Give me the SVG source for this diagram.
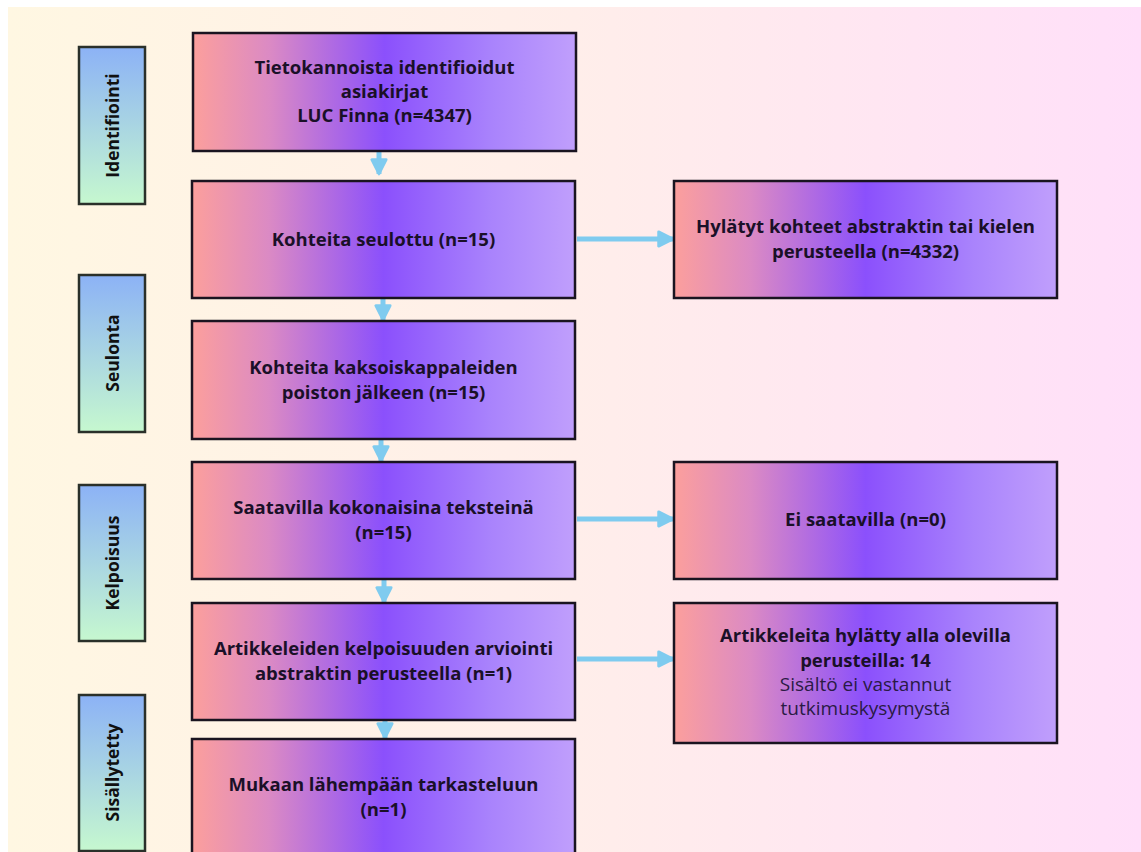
<svg xmlns="http://www.w3.org/2000/svg" width="1141" height="852" viewBox="0 0 1141 852">
  <defs>
    <linearGradient id="bg" x1="0" y1="0" x2="1" y2="0">
      <stop offset="0" stop-color="#fff7e2"/>
      <stop offset="0.5" stop-color="#ffeeea"/>
      <stop offset="1" stop-color="#ffdff9"/>
    </linearGradient>
    <linearGradient id="boxg" x1="0" y1="0" x2="1" y2="0">
      <stop offset="0" stop-color="#fc9f9c"/>
      <stop offset="0.2" stop-color="#db8ac4"/>
      <stop offset="0.5" stop-color="#8b50fc"/>
      <stop offset="0.78" stop-color="#a983fc"/>
      <stop offset="1" stop-color="#c09ffc"/>
    </linearGradient>
    <linearGradient id="labg" x1="0" y1="0" x2="0" y2="1">
      <stop offset="0" stop-color="#8cb2f6"/>
      <stop offset="1" stop-color="#c6f8cf"/>
    </linearGradient>
    <marker id="ah" viewBox="0 0 10 10" refX="9" refY="5" markerWidth="3.6" markerHeight="3.6" orient="auto" markerUnits="strokeWidth">
      <path d="M1,1 L9,5 L1,9 Z" fill="#7fcbef" stroke="#7fcbef" stroke-width="1.5" stroke-linejoin="round"/>
    </marker>
    <style>
      .box { fill: url(#boxg); stroke: #1a1420; stroke-width: 2.5; }
      .lab { fill: url(#labg); stroke: #2a302a; stroke-width: 2.5; }
      .t { font-family: "Open Sans", "Liberation Sans", sans-serif; font-weight: 700; font-size: 18.5px; fill: #1a1028; text-anchor: middle; }
      .r { font-family: "Open Sans", "Liberation Sans", sans-serif; font-weight: 400; font-size: 19px; fill: #2a1a45; text-anchor: middle; }
      .lt { font-family: "Open Sans", "Liberation Sans", sans-serif; font-weight: 700; font-size: 17.5px; fill: #111; text-anchor: middle; }
      .c { stroke: #7fcbef; stroke-width: 5; fill: none; marker-end: url(#ah); }
    </style>
  </defs>

  <rect x="0" y="0" width="1141" height="852" fill="#ffffff"/>
  <rect x="8" y="7" width="1133" height="845" fill="url(#bg)"/>

  <g id="label-identifiointi">
    <rect class="lab" x="79" y="47" width="66" height="157"/>
    <text class="lt" transform="translate(118.5,125.5) rotate(-90)">Identifiointi</text>
  </g>
  <g id="label-seulonta">
    <rect class="lab" x="79" y="275" width="66" height="157"/>
    <text class="lt" transform="translate(118.5,353) rotate(-90)">Seulonta</text>
  </g>
  <g id="label-kelpoisuus">
    <rect class="lab" x="79" y="485" width="66" height="156"/>
    <text class="lt" transform="translate(118.5,563) rotate(-90)">Kelpoisuus</text>
  </g>
  <g id="label-sisallytetty">
    <rect class="lab" x="79" y="695" width="66" height="156"/>
    <text class="lt" transform="translate(118.5,772.5) rotate(-90)">Sisällytetty</text>
  </g>

  <g id="connectors">
    <line class="c" x1="379" y1="152" x2="379" y2="174"/>
    <line class="c" x1="383" y1="299" x2="383" y2="320"/>
    <line class="c" x1="381" y1="440" x2="381" y2="461"/>
    <line class="c" x1="384" y1="580" x2="384" y2="602"/>
    <line class="c" x1="385" y1="721" x2="385" y2="738"/>
    <line class="c" x1="577" y1="239" x2="673" y2="239"/>
    <line class="c" x1="577" y1="519" x2="673" y2="519"/>
    <line class="c" x1="577" y1="659" x2="673" y2="659"/>
  </g>

  <g id="n1">
    <rect class="box" x="193" y="33" width="383" height="118"/>
    <text class="t" x="384.5" y="73.5">Tietokannoista identifioidut</text>
    <text class="t" x="384.5" y="97.5">asiakirjat</text>
    <text class="t" x="384.5" y="121.5">LUC Finna (n=4347)</text>
  </g>
  <g id="n2">
    <rect class="box" x="192" y="181" width="383" height="117"/>
    <text class="t" x="383.5" y="245.5">Kohteita seulottu (n=15)</text>
  </g>
  <g id="n3">
    <rect class="box" x="192" y="321" width="383" height="118"/>
    <text class="t" x="383.5" y="374">Kohteita kaksoiskappaleiden</text>
    <text class="t" x="383.5" y="398.5">poiston jälkeen (n=15)</text>
  </g>
  <g id="n4">
    <rect class="box" x="192" y="462" width="383" height="117"/>
    <text class="t" x="383.5" y="513.5">Saatavilla kokonaisina teksteinä</text>
    <text class="t" x="383.5" y="538.5">(n=15)</text>
  </g>
  <g id="n5">
    <rect class="box" x="192" y="603" width="383" height="117"/>
    <text class="t" x="383.5" y="654.5">Artikkeleiden kelpoisuuden arviointi</text>
    <text class="t" x="383.5" y="679.5">abstraktin perusteella (n=1)</text>
  </g>
  <g id="n6">
    <rect class="box" x="192" y="739" width="383" height="130"/>
    <text class="t" x="383.5" y="790.5">Mukaan lähempään tarkasteluun</text>
    <text class="t" x="383.5" y="815.5">(n=1)</text>
  </g>
  <g id="r1">
    <rect class="box" x="674" y="181" width="383" height="117"/>
    <text class="t" x="865.5" y="232.5">Hylätyt kohteet abstraktin tai kielen</text>
    <text class="t" x="865.5" y="257.5">perusteella (n=4332)</text>
  </g>
  <g id="r2">
    <rect class="box" x="674" y="462" width="383" height="117"/>
    <text class="t" x="865.5" y="525.5">Ei saatavilla (n=0)</text>
  </g>
  <g id="r3">
    <rect class="box" x="674" y="603" width="383" height="140"/>
    <text class="t" x="865.5" y="641.5">Artikkeleita hylätty alla olevilla</text>
    <text class="t" x="865.5" y="666.5">perusteilla: 14</text>
    <text class="r" x="865.5" y="690.5">Sisältö ei vastannut</text>
    <text class="r" x="865.5" y="714.5">tutkimuskysymystä</text>
  </g>
</svg>
